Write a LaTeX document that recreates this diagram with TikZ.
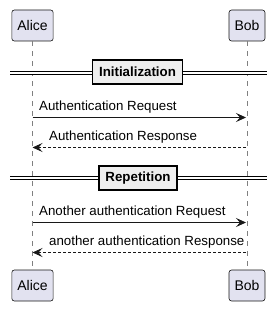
\documentclass[tikz,border=0pt]{standalone}
\usepackage{fontspec}
\setmainfont{Liberation Sans}
\usetikzlibrary{arrows.meta}
\definecolor{partfill}{HTML}{E2E2F0}
\definecolor{partline}{HTML}{181818}
\definecolor{sepfill}{HTML}{EEEEEE}
\begin{document}
\begin{tikzpicture}[x=1pt,y=-1pt,
  msg/.style={draw=partline, line width=0.9pt, -{Stealth[length=10pt,width=9pt,inset=4pt]}},
  reply/.style={msg, densely dashed},
  msglabel/.style={anchor=south west, inner sep=1pt, font=\fontsize{13.3}{15}\selectfont}]
\useasboundingbox (0,0) rectangle (276,313);
 \begin{scope}[every node/.style={draw=partline, fill=partfill, rounded corners=2.5pt,
     line width=0.6pt, minimum height=31pt, inner xsep=5.5pt,
     font=\fontsize{14}{16}\selectfont}]
  \node (alicetop) at (32.5,25.5) {Alice};
  \node (bobtop) at (247,25.5) {Bob};
  \node (alicebot) at (32.5,285.5) {Alice};
  \node (bobbot) at (247,285.5) {Bob};
 \end{scope}
 \begin{scope}[gray, line width=0.6pt, dash pattern=on 5pt off 5pt]
  \draw (alicetop) -- (alicebot);
  \draw (bobtop) -- (bobbot);
 \end{scope}
 % separators
 \coordinate (initL) at (10,73);
 \coordinate (initR) at (267,73);
 \coordinate (repL) at (10,178);
 \coordinate (repR) at (267,178);
 \begin{scope}[line width=0.9pt, double distance=2.2pt]
  \draw[double] (initL) -- (initR);
  \draw[double] (repL) -- (repR);
 \end{scope}
 \begin{scope}[every node/.style={draw=black, fill=sepfill, line width=1.6pt,
     minimum height=24pt, inner xsep=6.5pt, font=\bfseries\fontsize{13.3}{15}\selectfont}]
  \node (init) at (137.5,72) {Initialization};
  \node (rep) at (138,178) {Repetition};
 \end{scope}
 % messages
 \coordinate (a1) at (32.5,117.5);
 \coordinate (b1) at (246,117.5);
 \coordinate (a2) at (32.5,147.5);
 \coordinate (b2) at (246,147.5);
 \coordinate (a3) at (32.5,222.5);
 \coordinate (b3) at (246,222.5);
 \coordinate (a4) at (32.5,252.5);
 \coordinate (b4) at (246,252.5);
 \draw[msg] (a1) -- (b1);
 \draw[reply] (b2) -- (a2);
 \draw[msg] (a3) -- (b3);
 \draw[reply] (b4) -- (a4);
 \node[msglabel] (l1) at (38,114) {Authentication Request};
 \node[msglabel] (l2) at (48,144) {Authentication Response};
 \node[msglabel] (l3) at (38,219) {Another authentication Request};
 \node[msglabel] (l4) at (48,249) {another authentication Response};
\end{tikzpicture}
\end{document}
